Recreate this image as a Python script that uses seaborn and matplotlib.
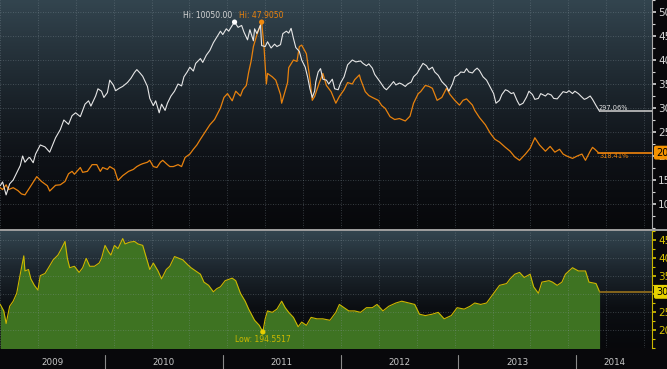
import numpy as np
import pandas as pd
import matplotlib
matplotlib.use("Agg")
import matplotlib.pyplot as plt
import matplotlib.transforms as mtransforms
from matplotlib import font_manager
from matplotlib.colors import LinearSegmentedColormap
import seaborn as sns

# --- données (dates en années décimales) ---
white_t = [2009.11, 2009.13, 2009.16, 2009.19, 2009.22, 2009.25, 2009.28, 2009.30, 2009.32, 2009.35,
           2009.36, 2009.39, 2009.41, 2009.45, 2009.49, 2009.53, 2009.58, 2009.62, 2009.65, 2009.69,
           2009.72, 2009.75, 2009.79, 2009.83, 2009.86, 2009.88, 2009.92, 2009.94, 2009.97, 2009.99,
           2010.02, 2010.04, 2010.07, 2010.09, 2010.12, 2010.15, 2010.19, 2010.22, 2010.25, 2010.27,
           2010.30, 2010.32, 2010.36, 2010.38, 2010.41, 2010.43, 2010.46, 2010.48, 2010.51, 2010.53,
           2010.56, 2010.59, 2010.62, 2010.65, 2010.67, 2010.70, 2010.72, 2010.75, 2010.77, 2010.81,
           2010.83, 2010.86, 2010.89, 2010.92, 2010.95, 2010.98, 2011.00, 2011.03, 2011.05, 2011.08,
           2011.10, 2011.13, 2011.16, 2011.18, 2011.21, 2011.23, 2011.26, 2011.27, 2011.29, 2011.32,
           2011.33, 2011.36, 2011.38, 2011.41, 2011.44, 2011.46, 2011.49, 2011.51, 2011.54, 2011.56,
           2011.58, 2011.60, 2011.62, 2011.65, 2011.67, 2011.70, 2011.72, 2011.74, 2011.76, 2011.78,
           2011.79, 2011.81, 2011.83, 2011.85, 2011.88, 2011.90, 2011.93, 2011.95, 2011.98, 2012.00,
           2012.03, 2012.06, 2012.10, 2012.13, 2012.17, 2012.19, 2012.22, 2012.24, 2012.27, 2012.29,
           2012.32, 2012.34, 2012.37, 2012.39, 2012.42, 2012.45, 2012.47, 2012.50, 2012.52, 2012.55,
           2012.57, 2012.60, 2012.62, 2012.65, 2012.68, 2012.70, 2012.73, 2012.75, 2012.78, 2012.80,
           2012.83, 2012.86, 2012.90, 2012.92, 2012.95, 2012.97, 2013.00, 2013.02, 2013.05, 2013.07,
           2013.09, 2013.12, 2013.14, 2013.16, 2013.18, 2013.21, 2013.24, 2013.27, 2013.30, 2013.32,
           2013.35, 2013.37, 2013.40, 2013.42, 2013.45, 2013.47, 2013.50, 2013.52, 2013.55, 2013.58,
           2013.60, 2013.63, 2013.65, 2013.68, 2013.70, 2013.74, 2013.76, 2013.79, 2013.81, 2013.84,
           2013.86, 2013.89, 2013.92, 2013.94, 2013.97, 2013.99, 2014.02, 2014.04, 2014.07, 2014.09,
           2014.12, 2014.14, 2014.17, 2014.20]
white_v = [13.8, 14.6, 11.9, 14.2, 15.0, 16.5, 18.0, 20.0, 18.7, 19.6,
           19.7, 18.6, 20.4, 22.3, 21.9, 20.8, 23.8, 25.5, 27.5, 26.6,
           28.4, 29.0, 28.2, 30.8, 31.5, 30.4, 32.5, 34.0, 33.5, 32.2,
           33.2, 35.8, 34.8, 33.6, 34.1, 34.5, 35.3, 36.2, 37.4, 38.0,
           37.2, 36.6, 34.5, 32.0, 30.5, 31.5, 29.0, 30.8, 29.5, 31.0,
           32.5, 33.5, 35.0, 34.6, 36.5, 37.6, 38.5, 37.7, 39.3, 40.3,
           39.5, 41.0, 42.0, 43.6, 44.8, 46.0, 45.3, 46.5, 46.0, 47.2,
           47.9, 46.8, 47.2, 45.8, 44.2, 46.3, 44.0, 46.5, 45.5, 47.3,
           43.0, 42.8, 43.8, 42.5, 43.3, 42.8, 43.2, 45.5, 46.0, 45.6,
           46.6, 44.5, 42.6, 41.8, 40.0, 38.5, 36.5, 34.0, 32.2, 33.5,
           35.5, 37.5, 38.2, 36.0, 35.8, 35.0, 36.0, 34.0, 33.8, 35.2,
           36.5, 39.0, 40.0, 39.6, 39.8, 39.3, 38.8, 39.2, 38.3, 37.0,
           36.0, 35.3, 34.2, 33.8, 34.6, 35.5, 34.8, 35.2, 35.0, 34.5,
           35.0, 35.4, 36.5, 37.2, 38.5, 39.3, 38.8, 38.0, 38.5, 37.5,
           36.8, 35.5, 34.5, 33.5, 35.0, 36.5, 36.9, 37.5, 37.4, 38.2,
           37.5, 37.3, 37.9, 38.3, 37.8, 36.5, 35.8, 34.4, 33.0, 31.0,
           31.6, 32.8, 33.8, 33.6, 33.0, 33.2, 31.5, 30.6, 31.0, 32.3,
           33.5, 32.8, 31.8, 32.0, 33.0, 32.5, 33.0, 32.7, 32.0, 31.9,
           32.5, 33.4, 33.2, 33.6, 33.0, 33.5, 33.0, 32.5, 31.8, 32.0,
           32.5, 31.8, 30.5, 29.3]

orange_t = [2009.11, 2009.13, 2009.16, 2009.18, 2009.22, 2009.26, 2009.29, 2009.32, 2009.36, 2009.42,
            2009.46, 2009.51, 2009.53, 2009.58, 2009.62, 2009.66, 2009.69, 2009.72, 2009.74, 2009.79,
            2009.81, 2009.85, 2009.89, 2009.93, 2009.96, 2009.98, 2010.02, 2010.04, 2010.08, 2010.11,
            2010.15, 2010.20, 2010.24, 2010.27, 2010.30, 2010.32, 2010.36, 2010.38, 2010.41, 2010.44,
            2010.47, 2010.49, 2010.53, 2010.55, 2010.58, 2010.62, 2010.65, 2010.68, 2010.72, 2010.75,
            2010.78, 2010.81, 2010.85, 2010.89, 2010.93, 2010.98, 2011.01, 2011.04, 2011.08, 2011.11,
            2011.15, 2011.17, 2011.20, 2011.22, 2011.24, 2011.26, 2011.29, 2011.32, 2011.33, 2011.35,
            2011.37, 2011.38, 2011.42, 2011.45, 2011.49, 2011.50, 2011.55, 2011.56, 2011.60, 2011.63,
            2011.65, 2011.67, 2011.69, 2011.71, 2011.72, 2011.74, 2011.76, 2011.78, 2011.82, 2011.85,
            2011.88, 2011.92, 2011.96, 2011.99, 2012.03, 2012.06, 2012.10, 2012.12, 2012.16, 2012.17,
            2012.21, 2012.24, 2012.27, 2012.32, 2012.35, 2012.38, 2012.42, 2012.46, 2012.50, 2012.55,
            2012.59, 2012.62, 2012.66, 2012.68, 2012.72, 2012.75, 2012.78, 2012.82, 2012.86, 2012.90,
            2012.93, 2012.97, 2013.01, 2013.04, 2013.07, 2013.12, 2013.14, 2013.18, 2013.23, 2013.27,
            2013.31, 2013.35, 2013.40, 2013.44, 2013.48, 2013.52, 2013.57, 2013.61, 2013.65, 2013.69,
            2013.74, 2013.78, 2013.82, 2013.86, 2013.89, 2013.92, 2013.97, 2014.01, 2014.05, 2014.08,
            2014.12, 2014.14, 2014.16, 2014.19]
orange_v = [13.4, 13.0, 14.0, 13.0, 13.4, 12.8, 12.1, 11.9, 13.4, 15.7,
            14.7, 13.8, 12.7, 13.9, 14.0, 14.7, 16.3, 16.8, 16.2, 17.6,
            16.6, 16.8, 18.2, 18.2, 16.8, 17.6, 17.2, 17.8, 17.2, 14.9,
            15.9, 16.8, 17.2, 17.8, 18.2, 18.4, 18.7, 19.1, 17.8, 17.6,
            18.7, 19.1, 18.2, 17.8, 17.8, 18.2, 17.8, 19.7, 20.4, 21.4,
            22.3, 23.5, 25.0, 26.5, 27.6, 30.0, 32.2, 33.0, 31.5, 33.5,
            32.5, 33.8, 34.7, 37.5, 39.7, 42.8, 45.3, 47.2, 47.905, 42.8,
            35.0, 37.2, 36.5, 35.8, 32.8, 31.0, 35.3, 38.4, 40.0, 39.7,
            42.8, 43.1, 42.2, 41.3, 39.5, 36.0, 31.6, 32.4, 35.3, 37.2,
            34.7, 33.4, 31.0, 32.4, 33.8, 35.3, 35.0, 35.9, 36.9, 36.0,
            33.4, 32.6, 32.2, 31.6, 30.5, 29.9, 28.2, 27.6, 27.8, 27.3,
            28.3, 31.0, 33.0, 33.4, 34.7, 34.5, 34.1, 31.6, 32.2, 34.1,
            32.8, 31.6, 30.6, 31.6, 31.9, 30.6, 29.5, 28.0, 26.5, 24.8,
            23.5, 22.9, 21.8, 21.0, 19.8, 19.1, 20.4, 21.6, 23.8, 22.3,
            21.0, 22.0, 20.8, 21.4, 20.4, 20.0, 19.5, 20.0, 20.4, 19.1,
            21.0, 21.8, 21.4, 20.7]

green_t = [2009.11, 2009.14, 2009.16, 2009.19, 2009.22, 2009.25, 2009.28, 2009.31, 2009.32, 2009.35,
           2009.37, 2009.40, 2009.43, 2009.45, 2009.49, 2009.52, 2009.56, 2009.60, 2009.63, 2009.66,
           2009.68, 2009.70, 2009.74, 2009.78, 2009.81, 2009.84, 2009.87, 2009.91, 2009.95, 2009.97,
           2010.00, 2010.03, 2010.05, 2010.08, 2010.11, 2010.15, 2010.17, 2010.21, 2010.25, 2010.28,
           2010.32, 2010.36, 2010.38, 2010.41, 2010.45, 2010.48, 2010.52, 2010.55, 2010.59, 2010.63,
           2010.66, 2010.70, 2010.73, 2010.77, 2010.81, 2010.84, 2010.88, 2010.92, 2010.95, 2010.98,
           2011.02, 2011.08, 2011.11, 2011.15, 2011.19, 2011.22, 2011.27, 2011.31, 2011.34, 2011.36,
           2011.38, 2011.42, 2011.46, 2011.50, 2011.53, 2011.56, 2011.60, 2011.64, 2011.67, 2011.71,
           2011.75, 2011.80, 2011.85, 2011.91, 2011.96, 2011.99, 2012.03, 2012.07, 2012.12, 2012.17,
           2012.22, 2012.27, 2012.31, 2012.36, 2012.41, 2012.47, 2012.52, 2012.58, 2012.63, 2012.67,
           2012.72, 2012.78, 2012.83, 2012.88, 2012.94, 2012.99, 2013.05, 2013.10, 2013.14, 2013.19,
           2013.24, 2013.30, 2013.35, 2013.41, 2013.44, 2013.48, 2013.52, 2013.56, 2013.61, 2013.64,
           2013.68, 2013.71, 2013.77, 2013.80, 2013.84, 2013.88, 2013.91, 2013.97, 2014.02, 2014.08,
           2014.11, 2014.17, 2014.20]
green_v = [271, 253, 218, 266, 280, 302, 355, 406, 364, 368,
           342, 324, 311, 351, 357, 373, 395, 408, 426, 446,
           399, 373, 377, 360, 373, 399, 377, 377, 386, 399,
           435, 417, 408, 435, 426, 454, 439, 444, 446, 439,
           435, 391, 368, 386, 364, 342, 368, 377, 404, 399,
           395, 382, 373, 364, 355, 333, 324, 306, 315, 320,
           337, 344, 337, 302, 280, 258, 227, 213, 194.55, 231,
           253, 249, 258, 280, 262, 249, 235, 209, 222, 213,
           235, 231, 231, 227, 249, 271, 262, 253, 253, 249,
           262, 262, 271, 253, 266, 275, 280, 275, 271, 244,
           240, 244, 249, 231, 240, 262, 258, 266, 275, 271,
           275, 302, 324, 329, 342, 355, 360, 346, 355, 320,
           302, 333, 337, 333, 324, 333, 355, 373, 364, 364,
           333, 329, 306]

years = [2009, 2010, 2011, 2012, 2013, 2014]
top_ticks = [10, 15, 20, 25, 30, 35, 40, 45, 50]
bottom_ticks = [200, 250, 300, 350, 400, 450]
white_hi_label = "Hi: 10050.00"
orange_hi_label = "Hi: 47.9050"
green_low_label = "Low: 194.5517"
white_end_label = "297.06%"
orange_end_label = "318.41%"
orange_tag = "20.73"
green_tag = "306.0"

# --- style ---
sns.set_theme(style="dark")
names = {f.name for f in font_manager.fontManager.ttflist}
narrow = "Liberation Sans Narrow" if "Liberation Sans Narrow" in names else "DejaVu Sans"
plt.rcParams["font.family"] = [narrow, "DejaVu Sans"]

XMIN, XMAX = 2009.108, 2014.645
GRID_KW = dict(color="#8c99a3", alpha=0.45, lw=0.6, ls=(0, (1, 2)), zorder=2.5)

fig = plt.figure(figsize=(6.67, 3.69), dpi=100, facecolor="#08080b")
ax1 = fig.add_axes([0, 1 - 228 / 369, 652 / 667, 228 / 369])
ax2 = fig.add_axes([0, 21 / 369, 652 / 667, 117 / 369])


def paint_bg(ax, stops):
    cmap = LinearSegmentedColormap.from_list("bg", stops)
    grad = np.linspace(1, 0, 256).reshape(-1, 1)
    ax.imshow(grad, aspect="auto", cmap=cmap, extent=(0, 1, 0, 1),
              transform=ax.transAxes, zorder=0, interpolation="bicubic")


paint_bg(ax1, [(0, "#07080b"), (0.3, "#0e1116"), (0.55, "#192128"), (0.8, "#27343d"), (1, "#33454f")])
paint_bg(ax2, [(0, "#07080b"), (0.35, "#0c0f13"), (0.7, "#1e2830"), (1, "#33454f")])

# grille verticale (pas ~0.32 an) et horizontale
vgrid = 2009.751 + 0.3218 * np.arange(-2, 16)
for ax in (ax1, ax2):
    for g in vgrid:
        ax.axvline(g, **GRID_KW)
for v in top_ticks:
    ax1.axhline(v, **GRID_KW)
for v in bottom_ticks:
    ax2.axhline(v, **GRID_KW)

# --- panneau du haut ---
white = pd.DataFrame({"date": white_t, "value": white_v})
orange = pd.DataFrame({"date": orange_t, "value": orange_v})
sns.lineplot(data=orange, x="date", y="value", ax=ax1, color="#e8820e", linewidth=0.9,
             estimator=None, sort=False, legend=False, zorder=3)
sns.lineplot(data=white, x="date", y="value", ax=ax1, color="#e6e6e6", linewidth=0.8,
             estimator=None, sort=False, legend=False, zorder=4)
ax1.plot([white_t[-1], XMAX], [white_v[-1]] * 2, color="#c4c4c4", lw=1.2, zorder=4)
ax1.plot([orange_t[-1], XMAX], [orange_v[-1]] * 2, color="#e07c0c", lw=1.3, zorder=3)

iw = int(np.argmax(white_v))
io = int(np.argmax(orange_v))
ax1.scatter([white_t[iw]], [white_v[iw]], s=14, color="white", edgecolor="none", zorder=6)
ax1.scatter([orange_t[io]], [orange_v[io]], s=14, color="#f08a10", edgecolor="none", zorder=6)
ax1.annotate(white_hi_label, (white_t[iw], white_v[iw]), xytext=(-1.5, 4.5), textcoords="offset points",
             ha="right", va="center", fontsize=5.5, color="#d4d4d4", zorder=7)
ax1.annotate(orange_hi_label, (orange_t[io], orange_v[io]), xytext=(0, 4.5), textcoords="offset points",
             ha="center", va="center", fontsize=5.5, color="#e8820e", zorder=7)
ax1.annotate(white_end_label, (white_t[-1], white_v[-1]), xytext=(-0.5, 2.3), textcoords="offset points",
             ha="left", va="center", fontsize=4.8, color="#e0e0e0", zorder=7)
ax1.annotate(orange_end_label, (orange_t[-1], orange_v[-1]), xytext=(1, -2.4), textcoords="offset points",
             ha="left", va="center", fontsize=4.8, color="#e8820e", zorder=7)

# --- panneau du bas ---
green = pd.DataFrame({"date": green_t, "value": green_v})
ax2.fill_between(green["date"], green["value"], 0, color="#3e7322", lw=0, zorder=2)
sns.lineplot(data=green, x="date", y="value", ax=ax2, color="#cdb800", linewidth=0.8,
             estimator=None, sort=False, legend=False, zorder=3)
ax2.plot([green_t[-1], XMAX], [green_v[-1]] * 2, color="#8c6a1c", lw=1.3, zorder=3)
ig = int(np.argmin(green_v))
ax2.scatter([green_t[ig]], [green_v[ig]], s=14, color="#e8cf00", edgecolor="none", zorder=6)
ax2.annotate(green_low_label, (green_t[ig], green_v[ig]), xytext=(0, -5.3), textcoords="offset points",
             ha="center", va="center", fontsize=5.5, color="#cdb800", zorder=7)

# --- axes, graduations ---
for ax, ticks, lim, col, spcol in ((ax1, top_ticks, (9.05, 52.27), "#d6d6d6", "#a8a8a8"),
                                    (ax2, bottom_ticks, (161, 472), "#d8c300", "#c8b400")):
    ax.set_xlim(XMIN, XMAX)
    ax.set_ylim(*lim)
    ax.set_xlabel("")
    ax.set_ylabel("")
    ax.yaxis.tick_right()
    ax.set_yticks(ticks)
    ax.set_yticklabels([str(t) for t in ticks])
    step = ticks[1] - ticks[0]
    ax.set_yticks(np.arange(ticks[0] - step, ticks[-1] + step, step / 2), minor=True)
    ax.tick_params(axis="y", which="major", length=3, width=1.2, colors=col, labelsize=7.5, pad=1.5,
                   direction="out")
    ax.tick_params(axis="y", which="minor", length=2, width=0.8, colors=col, direction="out")
    ax.grid(False)
    for side in ("top", "left", "bottom"):
        ax.spines[side].set_visible(False)
    ax.spines["right"].set_color(spcol)
    ax.spines["right"].set_linewidth(0.8)

ax1.tick_params(axis="x", which="both", length=0, labelbottom=False)
months = [y + m / 12 for y in range(2009, 2015) for m in range(12) if XMIN <= y + m / 12 <= XMAX]
ax2.set_xticks(months)
ax2.tick_params(axis="x", length=2, width=0.8, colors="#bdbdbd", labelbottom=False, direction="out")

# étiquettes d'années, centrées sur la partie visible
trans = mtransforms.blended_transform_factory(ax2.transData, ax2.transAxes)
for y in years:
    lo, hi = max(y, XMIN), min(y + 1, XMAX)
    ax2.text((lo + hi) / 2, -0.128, str(y), transform=trans, ha="center", va="center",
             fontsize=6.3, color="#c8c8c8")
    if y > years[0]:
        ax2.plot([y, y], [-0.06, -0.2], transform=trans, clip_on=False, color="#8a8a8a", lw=0.8)

# étiquettes sur l'axe de droite
t1 = mtransforms.blended_transform_factory(ax1.transAxes, ax1.transData)
ax1.text(1.006, orange_v[-1], orange_tag, transform=t1, ha="left", va="center", fontsize=7,
         color="black", zorder=8, bbox=dict(boxstyle="round,pad=0.2", fc="#f39200", ec="none"))
t2 = mtransforms.blended_transform_factory(ax2.transAxes, ax2.transData)
ax2.text(1.006, green_v[-1], green_tag, transform=t2, ha="left", va="center", fontsize=7,
         color="black", zorder=8, bbox=dict(boxstyle="round,pad=0.2", fc="#e6d200", ec="none"))

# bande de séparation grise entre les panneaux
fig.add_artist(plt.Rectangle((0, 1 - 231 / 369), 1, 2.5 / 369, transform=fig.transFigure,
                             color="#9c9c9c", lw=0))

fig.savefig("out.png", dpi=100, facecolor=fig.get_facecolor())
